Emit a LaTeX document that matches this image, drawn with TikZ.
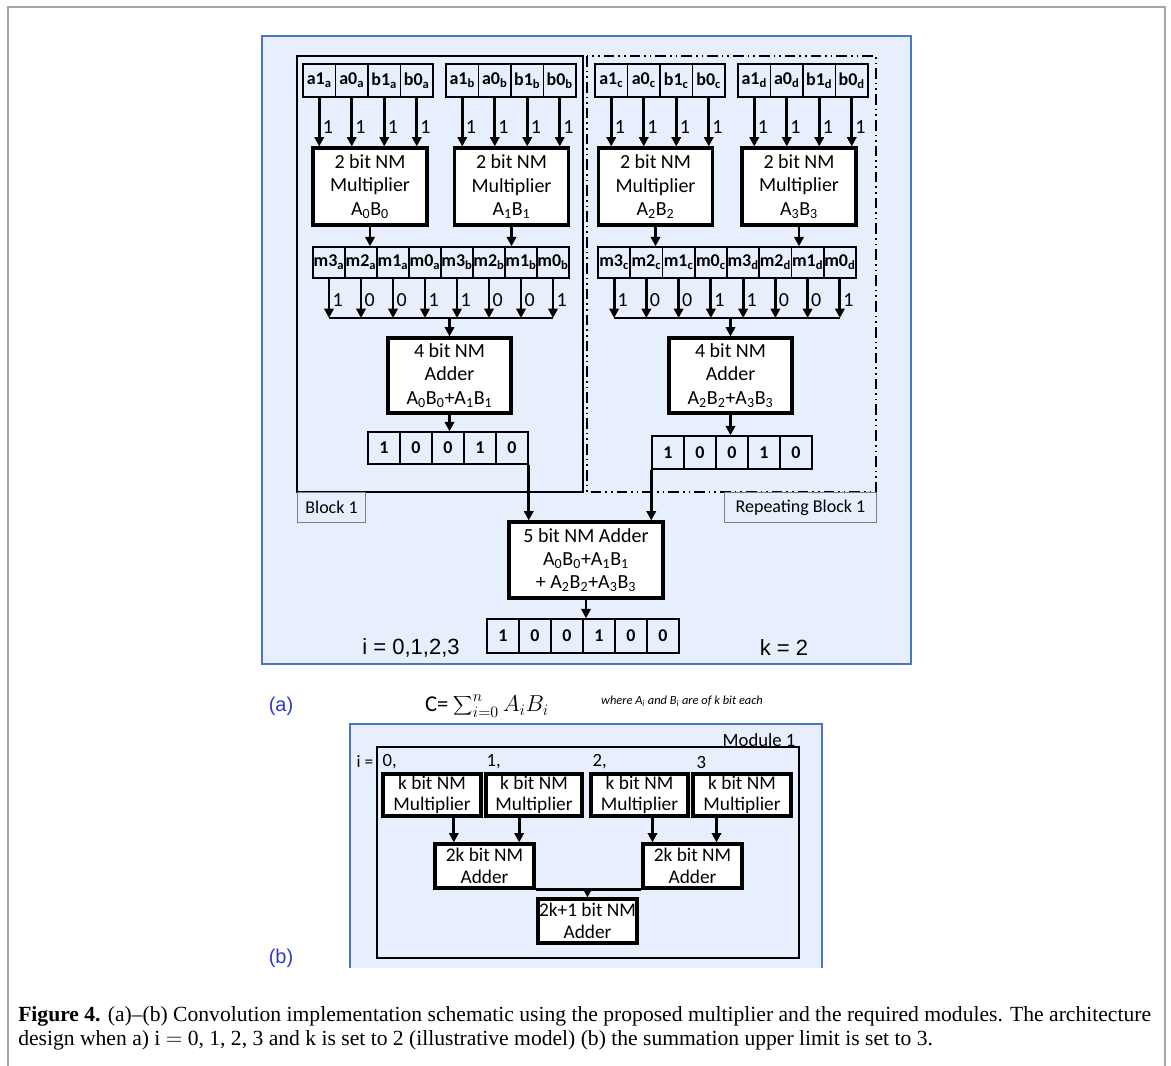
\documentclass[tikz,border=0pt]{standalone}
\usepackage{fontspec}
\setmainfont{Liberation Serif}
\newfontfamily\calfont{Carlito}
\newfontfamily\arifont{Liberation Sans}
\usetikzlibrary{arrows.meta,calc}

\definecolor{panelblue}{HTML}{E7EFFC}
\definecolor{panelline}{HTML}{4A76C6}
\definecolor{labelblue}{HTML}{3038C8}

\tikzset{
  cell/.style={draw, line width=1.1pt, minimum width=24.4pt, minimum height=24.5pt,
    inner sep=0pt, font=\calfont\bfseries\fontsize{13.5}{14}\selectfont},
  ubox/.style={draw, fill=white, line width=2.4pt, align=center, inner sep=0pt,
    font=\calfont\fontsize{15}{17.5}\selectfont},
  kbox/.style={draw, fill=white, line width=2.4pt, align=center, inner sep=0pt,
    font=\calfont\fontsize{14.5}{16}\selectfont},
  arr/.style={-{Triangle[length=7pt,width=7pt]}, line width=2.2pt},
  bitlbl/.style={anchor=west, inner sep=2.5pt, font=\calfont\fontsize{15}{16}\selectfont},
  blocktag/.style={draw=gray, line width=0.8pt, fill=panelblue, inner sep=0pt,
    minimum height=22.5pt, font=\calfont\fontsize{13.5}{15}\selectfont},
  repeatline/.style={line width=1.5pt,
    dash pattern=on 8pt off 3pt on 1.2pt off 3pt on 1.2pt off 3pt}
}

\begin{document}
\begin{tikzpicture}[x=0.75pt, y=-0.75pt]
  \useasboundingbox (0,0) rectangle (1171,1065);
  \draw[gray!70, line width=1.2pt] (8,1090) -- (8,7) -- (1165,7) -- (1165,1090);

  % panel (a)
  \draw[panelline, fill=panelblue, line width=1.2pt] (262,36) rectangle (911,664);
  \draw[line width=1.5pt] (297,56) rectangle (583,492);
  \draw[repeatline] (587,56) rectangle (876,492);
  \node[blocktag, anchor=north west, minimum width=51pt] (tag1) at (297,492) {Block 1};
  \node[blocktag, anchor=north east, minimum width=114pt] (tag2) at (877,492) {Repeating Block 1};

  % input bits
  \foreach \blk/\xo in {a/303,b/446,c/595,d/738}{
    \foreach \t [count=\i] in {a1,a0,b1,b0}
      \node[cell] (in\blk\i) at ({\xo+(\i-0.5)*32.5},80.5) {\t\textsubscript{\blk}};
  }

  % 2 bit multipliers
  \node[ubox, minimum width=85.5pt, minimum height=57.75pt] (mula) at (370,186.5)
    {2 bit NM\\Multiplier\\A\textsubscript{0}B\textsubscript{0}};
  \node[ubox, minimum width=85.5pt, minimum height=57.75pt] (mulb) at (511.5,186.5)
    {2 bit NM\\Multiplier\\A\textsubscript{1}B\textsubscript{1}};
  \node[ubox, minimum width=85.5pt, minimum height=57.75pt] (mulc) at (655.5,186.5)
    {2 bit NM\\Multiplier\\A\textsubscript{2}B\textsubscript{2}};
  \node[ubox, minimum width=85.5pt, minimum height=57.75pt] (muld) at (799,186.5)
    {2 bit NM\\Multiplier\\A\textsubscript{3}B\textsubscript{3}};

  \foreach \blk in {a,b,c,d}{
    \foreach \i in {1,...,4}{
      \draw[arr] (in\blk\i.south) -- (in\blk\i.south |- mul\blk.north);
      \node[bitlbl] at (in\blk\i.south |- 0,127) {1};
    }
  }

  % product bits
  \foreach \t/\s [count=\i] in {m3/a,m2/a,m1/a,m0/a,m3/b,m2/b,m1/b,m0/b}
    \node[cell, minimum width=24pt, minimum height=23.25pt] (mab\i)
      at ({313+(\i-0.5)*32},262.5) {\t\textsubscript{\s}};
  \foreach \t/\s [count=\i] in {m3/c,m2/c,m1/c,m0/c,m3/d,m2/d,m1/d,m0/d}
    \node[cell, minimum width=24pt, minimum height=23.25pt] (mcd\i)
      at ({598+(\i-0.5)*32.25},262.5) {\t\textsubscript{\s}};

  \draw[arr] (mula.south) -- (mula.south |- mab1.north);
  \draw[arr] (mulb.south) -- (mulb.south |- mab1.north);
  \draw[arr] (mulc.south) -- (mulc.south |- mcd1.north);
  \draw[arr] (muld.south) -- (muld.south |- mcd1.north);

  % 4 bit adders
  \node[ubox, minimum width=92.25pt, minimum height=56.25pt] (adda) at (449.5,375.5)
    {4 bit NM\\Adder\\A\textsubscript{0}B\textsubscript{0}+A\textsubscript{1}B\textsubscript{1}};
  \node[ubox, minimum width=92.25pt, minimum height=56.25pt] (addc) at (730.5,375.5)
    {4 bit NM\\Adder\\A\textsubscript{2}B\textsubscript{2}+A\textsubscript{3}B\textsubscript{3}};

  \foreach \row/\add in {mab/adda,mcd/addc}{
    \foreach \b [count=\i] in {1,0,0,1,1,0,0,1}{
      \draw[arr] (\row\i.south) -- (\row\i.south |- 0,318);
      \node[bitlbl] at (\row\i.south |- 0,300) {\b};
    }
    \draw[line width=2.2pt] (\row1.south |- 0,318) -- (\row8.south |- 0,318);
    \draw[arr] (\add.north |- 0,318) -- (\add.north);
  }

  % partial sums
  \foreach \b [count=\i] in {1,0,0,1,0}{
    \node[cell, minimum width=24pt, minimum height=24pt] (outa\i) at ({368+(\i-0.5)*32},448) {\b};
    \node[cell, minimum width=24pt, minimum height=24.75pt] (outc\i) at ({652+(\i-0.5)*32},452.5) {\b};
  }
  \draw[arr] (adda.south) -- (adda.south |- outa1.north);
  \draw[arr] (addc.south) -- (addc.south |- outc1.north);

  % 5 bit adder
  \node[ubox, minimum width=115.5pt, minimum height=57pt] (add5) at (586,560)
    {5 bit NM Adder\\A\textsubscript{0}B\textsubscript{0}+A\textsubscript{1}B\textsubscript{1}\\
     + A\textsubscript{2}B\textsubscript{2}+A\textsubscript{3}B\textsubscript{3}};
  \draw[arr] (outa5.south east) -- (outa5.south east |- add5.north);
  \draw[arr] (outc1.south west) -- (outc1.south west |- add5.north);

  \foreach \b [count=\i] in {1,0,0,1,0,0}
    \node[cell, minimum width=24pt, minimum height=25.5pt] (sum\i) at ({487+(\i-0.5)*32},636) {\b};
  \draw[arr] (add5.south) -- (add5.south |- sum1.north);

  \node[font=\arifont\fontsize{16.5}{18}\selectfont] (ilist) at (411,648) {i = 0,1,2,3};
  \node[font=\arifont\fontsize{16.5}{18}\selectfont] (kval) at (784,648) {k = 2};

  % formula line
  \node[text=labelblue, font=\arifont\fontsize{15}{17}\selectfont] (lbla) at (281,706) {(a)};
  \node[font=\calfont\fontsize{17}{20}\selectfont] (csum) at (487,706)
    {C= $\displaystyle\sum\nolimits_{i=0}^{n} A_i B_i$};
  \node[font=\calfont\itshape\fontsize{9.3}{11}\selectfont] (where) at (682,701)
    {where A\textsubscript{i} and B\textsubscript{i} are of k bit each};

  % panel (b)
  \fill[panelblue] (350,724) rectangle (822,968);
  \draw[panelline, line width=1.2pt] (350,968) -- (350,724) -- (822,724) -- (822,968);
  \draw[line width=1.6pt] (377,747) rectangle (799,958);
  \node[anchor=south east, inner sep=1pt, font=\calfont\fontsize{14}{16}\selectfont] (modl) at (797,748) {Module 1};
  \node[font=\calfont\fontsize{13}{15}\selectfont] (ieq) at (365,762) {i =};
  \node[anchor=west, inner sep=1pt, font=\calfont\fontsize{14}{16}\selectfont] (idx0) at (381,762) {0,};
  \node[anchor=west, inner sep=1pt, font=\calfont\fontsize{14}{16}\selectfont] (idx1) at (485,762) {1,};
  \node[anchor=west, inner sep=1pt, font=\calfont\fontsize{14}{16}\selectfont] (idx2) at (591,762) {2,};
  \node[anchor=west, inner sep=1pt, font=\calfont\fontsize{14}{16}\selectfont] (idx3) at (695,762) {3};

  \node[kbox, minimum width=73.5pt, minimum height=31.5pt] (kmul1) at (432,795) {k bit NM\\Multiplier};
  \node[kbox, minimum width=72pt, minimum height=31.5pt] (kmul2) at (534,795) {k bit NM\\Multiplier};
  \node[kbox, minimum width=72.75pt, minimum height=31.5pt] (kmul3) at (639.5,795) {k bit NM\\Multiplier};
  \node[kbox, minimum width=73.5pt, minimum height=31.5pt] (kmul4) at (742,795) {k bit NM\\Multiplier};

  \node[kbox, minimum width=74.25pt, minimum height=33pt] (kadd1) at (484.5,866) {2k bit NM\\Adder};
  \node[kbox, minimum width=74.25pt, minimum height=33pt] (kadd2) at (692.5,866) {2k bit NM\\Adder};
  \node[kbox, minimum width=74.25pt, minimum height=33pt] (kaddf) at (587.5,921) {2k+1 bit NM\\Adder};

  \draw[arr] ([xshift=-23pt]kadd1.north |- kmul1.south) -- ([xshift=-23pt]kadd1.north);
  \draw[arr] ([xshift=26pt]kadd1.north |- kmul2.south) -- ([xshift=26pt]kadd1.north);
  \draw[arr] ([xshift=-30pt]kadd2.north |- kmul3.south) -- ([xshift=-30pt]kadd2.north);
  \draw[arr] ([xshift=18pt]kadd2.north |- kmul4.south) -- ([xshift=18pt]kadd2.north);
  \draw[line width=2.2pt] (kadd1.south east) -- (kadd2.south west);
  \draw[arr] (kaddf.north |- kadd1.south) -- (kaddf.north);

  \node[text=labelblue, font=\arifont\fontsize{15}{17}\selectfont] (lblb) at (281,958) {(b)};

  % caption
  \node[anchor=base west, inner sep=0pt, font=\fontsize{16.2}{18}\selectfont] (cap1) at (18,1021)
    {\textbf{Figure 4.} (a)–(b) Convolution implementation schematic using the proposed multiplier and the required modules. The architecture};
  \node[anchor=base west, inner sep=0pt, font=\fontsize{16.2}{18}\selectfont] (cap2) at (18,1045)
    {design when a) i $=$ 0, 1, 2, 3 and k is set to 2 (illustrative model) (b) the summation upper limit is set to 3.};
\end{tikzpicture}
\end{document}
